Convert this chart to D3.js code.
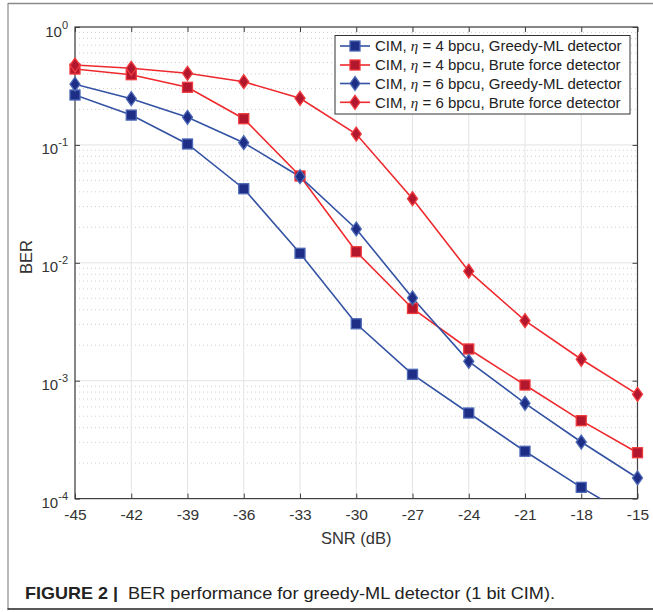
<!DOCTYPE html>
<html><head><meta charset="utf-8">
<script src="https://cdn.jsdelivr.net/npm/d3@7"></script>
<style>body{margin:0;background:#fff}svg{display:block}</style>
</head><body>
<script>
const snr = [-45,-42,-39,-36,-33,-30,-27,-24,-21,-18,-15];
const xTicks = [-45,-42,-39,-36,-33,-30,-27,-24,-21,-18,-15];
const yTickExps = [0,-1,-2,-3,-4];
const ber4Greedy = [0.265,0.179,0.1018,0.0425,0.01204,0.00304,0.001133,0.000532,0.000252,0.0001246,0.000065];
const ber4Brute  = [0.440,0.394,0.308,0.1668,0.0545,0.01242,0.0041,0.001858,0.000919,0.000458,0.000245];
const ber6Greedy = [0.327,0.2465,0.1715,0.1044,0.0537,0.01935,0.00503,0.00146,0.000643,0.000302,0.0001496];
const ber6Brute  = [0.476,0.4465,0.405,0.3436,0.2484,0.1237,0.035,0.00849,0.00323,0.00152,0.000766];
const seriesNames = [
  ["CIM, ","η"," = 4 bpcu, Greedy-ML detector"],
  ["CIM, ","η"," = 4 bpcu, Brute force detector"],
  ["CIM, ","η"," = 6 bpcu, Greedy-ML detector"],
  ["CIM, ","η"," = 6 bpcu, Brute force detector"]
];
const caption = ["FIGURE 2 |","BER performance for greedy-ML detector (1 bit CIM)."];

const BLUE = {line:"#3352a3", fill:"#1e2d86", edge:"#4c68b5"};
const RED  = {line:"#ee2a2e", fill:"#b3172d", edge:"#f03a3e"};
const series = [
  {vals:ber4Greedy, c:BLUE, m:"square"},
  {vals:ber4Brute,  c:RED,  m:"square"},
  {vals:ber6Greedy, c:BLUE, m:"diamond"},
  {vals:ber6Brute,  c:RED,  m:"diamond"}
];

const FONT="Liberation Sans, Arial, Helvetica, sans-serif";
const W=653,H=612;
const L=75,R=637.5,T=27,B=498.6;
const svg=d3.select("body").append("svg").attr("width",W).attr("height",H);
svg.append("rect").attr("width",W).attr("height",H).attr("fill","#fff");

// figure frame
svg.append("line").attr("x1",8).attr("x2",W).attr("y1",3.5).attr("y2",3.5).attr("stroke","#8a8a8a").attr("stroke-width",1.5);
svg.append("line").attr("x1",8).attr("x2",8).attr("y1",3).attr("y2",609.5).attr("stroke","#8a8a8a").attr("stroke-width",1.2);
svg.append("line").attr("x1",7.5).attr("x2",W).attr("y1",609).attr("y2",609).attr("stroke","#222").attr("stroke-width",1.6);

const x=d3.scaleLinear().domain([-45,-15]).range([L,R]);
const y=d3.scaleLog().domain([1e-4,1]).range([B,T]);

const g=svg.append("g");
// minor grid
const minor=[];
for(let e=-4;e<0;e++) for(let k=2;k<10;k++) minor.push(k*Math.pow(10,e));
g.selectAll(".mg").data(minor).enter().append("line")
 .attr("x1",L).attr("x2",R).attr("y1",d=>y(d)).attr("y2",d=>y(d))
 .attr("stroke","#cfcfcf").attr("stroke-width",1).attr("stroke-dasharray","1,3");
// major grid
g.selectAll(".gx").data(xTicks).enter().append("line")
 .attr("x1",d=>x(d)).attr("x2",d=>x(d)).attr("y1",T).attr("y2",B)
 .attr("stroke","#e4e4e4").attr("stroke-width",1);
g.selectAll(".gy").data(yTickExps).enter().append("line")
 .attr("x1",L).attr("x2",R).attr("y1",d=>y(Math.pow(10,d))).attr("y2",d=>y(Math.pow(10,d)))
 .attr("stroke","#e4e4e4").attr("stroke-width",1);

// axes via d3 axis
const ax=d3.axisBottom(x).tickValues(xTicks).tickSize(-5).tickPadding(10).tickFormat(d=>String(d));
const gxA=svg.append("g").attr("transform",`translate(0,${B})`).call(ax);
gxA.select(".domain").remove();
gxA.selectAll("line").attr("stroke","#404040");
gxA.selectAll("text").attr("font-family",FONT).attr("font-size",15.5).attr("fill","#333");
const axT=d3.axisTop(x).tickValues(xTicks).tickSize(-5).tickFormat("");
const gxT=svg.append("g").attr("transform",`translate(0,${T})`).call(axT);
gxT.select(".domain").remove();
gxT.selectAll("line").attr("stroke","#404040");

const ayL=d3.axisLeft(y).tickValues(yTickExps.map(e=>Math.pow(10,e))).tickSize(-5).tickFormat("");
const gyL=svg.append("g").attr("transform",`translate(${L},0)`).call(ayL);
gyL.select(".domain").remove();
gyL.selectAll("line").attr("stroke","#404040");
const ayR=d3.axisRight(y).tickValues(yTickExps.map(e=>Math.pow(10,e))).tickSize(-5).tickFormat("");
const gyR=svg.append("g").attr("transform",`translate(${R},0)`).call(ayR);
gyR.select(".domain").remove();
gyR.selectAll("line").attr("stroke","#404040");

// y tick labels with superscripts
yTickExps.forEach(e=>{
  const t=svg.append("text").attr("x",68).attr("y",y(Math.pow(10,e))+9.5)
   .attr("text-anchor","end").attr("font-family",FONT)
   .attr("font-size",15).attr("fill","#333");
  t.append("tspan").text("10");
  t.append("tspan").attr("dy",-8).attr("font-size",11).text(String(e));
});

// box
svg.append("rect").attr("x",L).attr("y",T).attr("width",R-L).attr("height",B-T)
 .attr("fill","none").attr("stroke","#404040").attr("stroke-width",1.2);

// axis labels
svg.append("text").attr("x",x(-30)).attr("y",543.5).attr("text-anchor","middle")
 .attr("font-family",FONT).attr("font-size",16.5).attr("fill","#333").text("SNR (dB)");
svg.append("text").attr("transform",`translate(32,257) rotate(-90)`).attr("text-anchor","middle")
 .attr("font-family",FONT).attr("font-size",16.5).attr("fill","#333").text("BER");

// clip for lines only
svg.append("clipPath").attr("id","clip").append("rect").attr("x",L).attr("y",T).attr("width",R-L).attr("height",B-T);
const plot=svg.append("g").attr("clip-path","url(#clip)");
const marks=svg.append("g");
const lineGen=d3.line().x(d=>x(d[0])).y(d=>y(d[1]));

function marker(sel,type,c){
  if(type==="square"){
    sel.append("rect").attr("x",-5).attr("y",-5).attr("width",10).attr("height",10)
      .attr("fill",c.fill).attr("stroke",c.edge).attr("stroke-width",1.3);
  } else {
    sel.append("path").attr("d","M0,-7L5,0L0,7L-5,0Z")
      .attr("fill",c.fill).attr("stroke",c.edge).attr("stroke-width",1.3);
  }
}
series.forEach(s=>{
  const pts=snr.map((v,i)=>[v,s.vals[i]]);
  plot.append("path").datum(pts).attr("d",lineGen).attr("fill","none")
    .attr("stroke",s.c.line).attr("stroke-width",1.6);
});
series.forEach(s=>{
  const pts=snr.map((v,i)=>[v,s.vals[i]]);
  pts.filter(p=>p[1]>=1e-4).forEach(p=>{
    const m=marks.append("g").attr("transform",`translate(${x(p[0])},${y(p[1])})`);
    marker(m,s.m,s.c);
  });
});

// legend
const lg=svg.append("g");
lg.append("rect").attr("x",335).attr("y",35.5).attr("width",295).attr("height",78.5)
  .attr("fill","#fff").attr("stroke","#333").attr("stroke-width",1);
const rowY=[46,65,83.5,102.3];
series.forEach((s,i)=>{
  const yy=rowY[i];
  lg.append("line").attr("x1",340).attr("x2",370).attr("y1",yy).attr("y2",yy).attr("stroke",s.c.line).attr("stroke-width",1.6);
  marker(lg.append("g").attr("transform",`translate(355,${yy})`),s.m,s.c);
  const t=lg.append("text").attr("x",375).attr("y",yy+5.3).attr("font-family",FONT)
    .attr("font-size",15).attr("fill","#222");
  t.append("tspan").text(seriesNames[i][0]);
  t.append("tspan").attr("font-family","Liberation Serif, Times New Roman, serif").attr("font-style","italic").text(seriesNames[i][1]);
  t.append("tspan").text(seriesNames[i][2]);
});

// caption
svg.append("text").attr("x",25).attr("y",598.5).attr("font-family",FONT)
  .attr("font-size",17).attr("font-weight","bold").attr("fill","#222")
  .attr("textLength",93).attr("lengthAdjust","spacingAndGlyphs").text(caption[0]);
svg.append("text").attr("x",128).attr("y",598.5).attr("font-family",FONT)
  .attr("font-size",17).attr("fill","#222")
  .attr("textLength",427).attr("lengthAdjust","spacingAndGlyphs").text(caption[1]);
</script>
</body></html>
